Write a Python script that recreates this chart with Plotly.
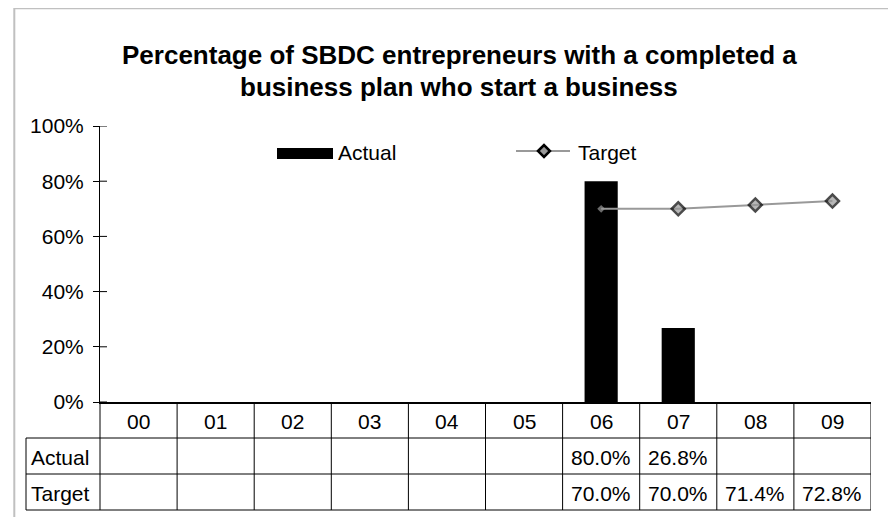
import plotly.graph_objects as go

categories = ["00", "01", "02", "03", "04", "05", "06", "07", "08", "09"]
actual = [None, None, None, None, None, None, 0.800, 0.268, None, None]
target = [None, None, None, None, None, None, 0.700, 0.700, 0.714, 0.728]
y_ticks = [0, 0.2, 0.4, 0.6, 0.8, 1.0]
title_lines = ["Percentage of SBDC entrepreneurs with a completed a",
               "business plan who start a business"]
row_labels = ["Actual", "Target"]

# page has an 8px body margin; work in screen coordinates and subtract it
OFF = 8
W, H = 896 - OFF, 517 - OFF
PLOT_X0, PLOT_X1, PLOT_Y0, PLOT_Y1 = 100, 871, 126, 402
L = PLOT_X0 - OFF
R = (896 - OFF) - (PLOT_X1 - OFF)
T = PLOT_Y0 - OFF
B = H - (PLOT_Y1 - OFF)
PW, PH = W - L - R, H - T - B
FONT = "Liberation Sans, Arial, sans-serif"


def px(x):
    return (x - OFF - L) / PW


def py(y):
    return (H - B - (y - OFF)) / PH


def fmt(v):
    return "" if v is None else f"{v * 100:.1f}%"


fig = go.Figure()
fig.add_trace(go.Bar(x=categories, y=actual, name="Actual", width=0.43,
                     marker=dict(color="black", line=dict(width=0)),
                     showlegend=False))
first = next(i for i, v in enumerate(target) if v is not None)
sizes = [6 if i == first else 10 for i in range(len(target))]
lws = [0 if i == first else 2.5 for i in range(len(target))]
fig.add_trace(go.Scatter(x=categories, y=target, name="Target", mode="lines+markers",
                         line=dict(color="#999999", width=2),
                         marker=dict(symbol="diamond", size=sizes, color="#999999",
                                     line=dict(color="black", width=lws)),
                         showlegend=False))

shapes = []
ann = []
line_c = "black"
# outer chart border
shapes.append(dict(type="rect", xref="paper", yref="paper", x0=px(14.3), x1=px(910),
                   y0=py(530), y1=py(8.3), line=dict(color="#c0c0c0", width=2)))
# y-axis inner tick parts
for t in y_ticks:
    shapes.append(dict(type="line", xref="paper", yref="y", x0=0, x1=px(PLOT_X0 + 7), y0=t, y1=t,
                       line=dict(color=line_c, width=1)))
# data table
y_hdr, y_act, y_tgt = 438, 474, 510
for yy in (y_hdr, y_act, y_tgt):
    shapes.append(dict(type="line", xref="paper", yref="paper", x0=px(26), x1=1,
                       y0=py(yy), y1=py(yy), line=dict(color=line_c, width=1)))
shapes.append(dict(type="line", xref="paper", yref="paper", x0=px(26), x1=px(26),
                   y0=py(y_hdr), y1=py(y_tgt), line=dict(color=line_c, width=1)))
shapes.append(dict(type="line", xref="paper", yref="paper", x0=0, x1=0,
                   y0=0, y1=py(y_tgt), line=dict(color=line_c, width=1)))
for k in range(len(categories)):
    shapes.append(dict(type="line", xref="x", yref="paper", x0=k + 0.5, x1=k + 0.5,
                       y0=0, y1=py(y_tgt), line=dict(color=line_c, width=1)))
tf = dict(family=FONT, size=21, color="black")
row_y = [421.5, 457, 493]
for k, c in enumerate(categories):
    ann.append(dict(x=c, y=py(row_y[0]), xref="x", yref="paper", text=c,
                    showarrow=False, font=tf, yanchor="middle"))
    ann.append(dict(x=c, y=py(row_y[1]), xref="x", yref="paper",
                    text=fmt(actual[k]), showarrow=False, font=tf, yanchor="middle"))
    ann.append(dict(x=c, y=py(row_y[2]), xref="x", yref="paper",
                    text=fmt(target[k]), showarrow=False, font=tf, yanchor="middle"))
for lbl, yy in zip(row_labels, row_y[1:]):
    ann.append(dict(x=px(29), y=py(yy), xref="paper", yref="paper", text=lbl,
                    showarrow=False, font=tf, xanchor="left", yanchor="middle"))
# title
for txt, yy in zip(title_lines, (55, 87)):
    ann.append(dict(x=px(459), y=py(yy), xref="paper", yref="paper", text=f"<b>{txt}</b>",
                    showarrow=False, font=dict(family=FONT, size=26, color="black"),
                    xanchor="center", yanchor="middle"))
# legend
ly = 152.5
shapes.append(dict(type="rect", xref="paper", yref="paper", x0=px(277), x1=px(333),
                   y0=py(159), y1=py(148), fillcolor="black", line=dict(width=0)))
ann.append(dict(x=px(336), y=py(ly), xref="paper", yref="paper", text="Actual",
                showarrow=False, font=tf, xanchor="left", yanchor="middle"))
lly = 151
shapes.append(dict(type="line", xref="paper", yref="paper", x0=px(516), x1=px(570),
                   y0=py(lly), y1=py(lly), line=dict(color="#999999", width=2)))
cx, d = 544, 6
path = (f"M {px(cx - d)} {py(lly)} L {px(cx)} {py(lly - d)} L {px(cx + d)} {py(lly)} "
        f"L {px(cx)} {py(lly + d)} Z")
shapes.append(dict(type="path", xref="paper", yref="paper", path=path,
                   fillcolor="#999999", line=dict(color="black", width=2.5)))
ann.append(dict(x=px(576), y=py(ly), xref="paper", yref="paper", text="Target",
                showarrow=False, font=tf, xanchor="left", yanchor="middle"))

fig.update_layout(
    width=W, height=H, margin=dict(l=L, r=R, t=T, b=B, pad=0),
    paper_bgcolor="white", plot_bgcolor="white",
    font=dict(family=FONT, size=21, color="black"),
    shapes=shapes, annotations=ann, bargap=0.57,
    xaxis=dict(type="category", range=[-0.5, 9.5], showticklabels=False, ticks="",
               showline=True, linecolor="black", linewidth=1.5, showgrid=False, zeroline=False,
               fixedrange=True),
    yaxis=dict(range=[0, 1], tickvals=y_ticks, tickformat=".0%", ticks="outside", ticklen=6,
               tickcolor="black", showline=True, linecolor="black", linewidth=1,
               ticklabelstandoff=5,
               showgrid=False, zeroline=False, tickfont=tf, fixedrange=True),
)
fig.write_html("out.html")
